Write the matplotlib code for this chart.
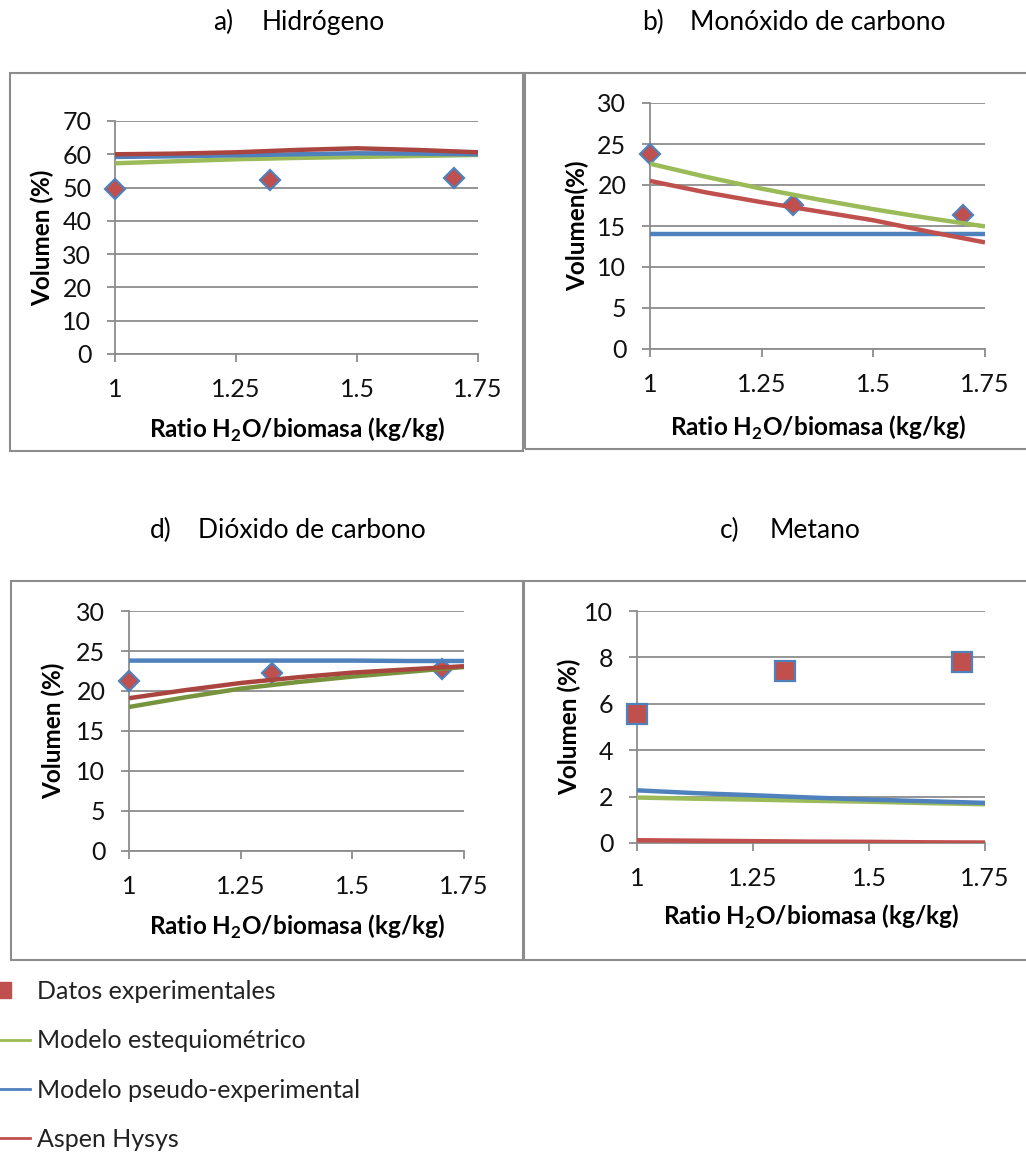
import matplotlib
matplotlib.use("Agg")
import matplotlib.pyplot as plt
from matplotlib.lines import Line2D
from matplotlib.patches import Rectangle

plt.rcParams['font.family'] = ['Lato', 'DejaVu Sans']
plt.rcParams['mathtext.fontset'] = 'custom'
plt.rcParams['mathtext.rm'] = 'Lato:bold'
plt.rcParams['mathtext.bf'] = 'Lato:bold'

# datos
x_exp = [1.0, 1.32, 1.70]
x_mod = [1.0, 1.125, 1.25, 1.375, 1.5, 1.625, 1.75]

# a) Hidrogeno
h2_exp = [49.5, 52.3, 53.0]
h2_esteq = [57.3, 57.9, 58.5, 58.9, 59.2, 59.5, 59.8]
h2_pseudo = [59.2, 59.4, 59.7, 60.0, 60.3, 60.2, 60.0]
h2_aspen = [60.0, 60.2, 60.6, 61.3, 61.8, 61.3, 60.6]

# b) Monoxido de carbono
co_exp = [23.75, 17.5, 16.4]
co_esteq = [22.6, 21.0, 19.55, 18.25, 17.05, 15.95, 14.95]
co_pseudo = [14.0, 14.0, 14.0, 14.0, 14.0, 14.0, 14.0]
co_aspen = [20.5, 19.1, 17.9, 16.8, 15.7, 14.3, 13.0]

# d) Dioxido de carbono
co2_exp = [21.2, 22.3, 22.7]
co2_esteq = [18.0, 19.2, 20.3, 21.1, 21.8, 22.4, 23.0]
co2_pseudo = [23.8, 23.8, 23.8, 23.8, 23.8, 23.75, 23.75]
co2_aspen = [19.1, 20.1, 21.0, 21.7, 22.3, 22.7, 23.1]

# c) Metano
ch4_exp = [5.58, 7.41, 7.81]
ch4_esteq = [1.96, 1.91, 1.87, 1.82, 1.78, 1.72, 1.67]
ch4_pseudo = [2.27, 2.15, 2.06, 1.96, 1.87, 1.80, 1.73]
ch4_aspen = [0.12, 0.10, 0.08, 0.06, 0.05, 0.03, 0.02]

x_ticks = [1, 1.25, 1.5, 1.75]
x_ticklabels = ['1', '1.25', '1.5', '1.75']

ROJO = '#C0504D'
ROJO_OSC = '#A9443F'
AZUL = '#4F81BD'
VERDE = '#9BBB59'
VERDE_OSC = '#77933C'
GRIS = '#8C8C8C'

W, H = 1026, 1162
fig = plt.figure(figsize=(W / 100, H / 100), dpi=100)


def px_box(x0, x1, y0, y1):
    # caja en pixeles (desde arriba) -> fraccion de figura
    return [x0 / W, 1 - y1 / H, (x1 - x0) / W, (y1 - y0) / H]


def panel(box, exp, esteq, pseudo, aspen, ymax, ystep, ylabel, ylab_x, xlab_y,
          marker='D', ms=10, rojo=ROJO, verde=VERDE):
    ax = fig.add_axes(px_box(*box))
    ax.plot(x_exp, exp, ls='none', marker=marker, ms=ms, mfc=ROJO, mec=AZUL,
            mew=1.6, zorder=3, clip_on=False)
    ax.plot(x_mod, esteq, color=verde, lw=3.2, zorder=4, solid_capstyle='butt')
    ax.plot(x_mod, pseudo, color=AZUL, lw=3.2, zorder=5, solid_capstyle='butt')
    ax.plot(x_mod, aspen, color=rojo, lw=3.2, zorder=6, solid_capstyle='butt')
    ax.set_xlim(1, 1.75)
    ax.set_ylim(0, ymax)
    ax.set_xticks(x_ticks)
    ax.set_xticklabels(x_ticklabels)
    ax.set_yticks(range(0, ymax + 1, ystep))
    ax.grid(axis='y', color=GRIS, lw=1.3)
    ax.set_axisbelow(True)
    for s in ['top', 'right']:
        ax.spines[s].set_visible(False)
    for s in ['left', 'bottom']:
        ax.spines[s].set_color(GRIS)
        ax.spines[s].set_linewidth(1.3)
    ax.tick_params(axis='both', direction='out', length=6, width=1.3,
                   color=GRIS, labelsize=18, labelcolor='#111111')
    ax.tick_params(axis='x', pad=11)
    ax.tick_params(axis='y', pad=11)
    ax.set_xlabel('Ratio H$_2$O/biomasa (kg/kg)', fontsize=17.5, fontweight='bold')
    ax.set_ylabel(ylabel, fontsize=17.5, fontweight='bold')
    ax.xaxis.set_label_coords(0.5, xlab_y)
    ax.xaxis.label.set_verticalalignment('center')
    ax.yaxis.set_label_coords(ylab_x, 0.5)
    ax.yaxis.label.set_verticalalignment('center')
    return ax


panel((115, 478, 121, 354), h2_exp, h2_esteq, h2_pseudo, h2_aspen, 70, 10,
      'Volumen (%)', -0.201, -0.326, rojo=ROJO_OSC)
panel((650, 985, 103, 349), co_exp, co_esteq, co_pseudo, co_aspen, 30, 5,
      'Volumen(%)', -0.218, -0.321)
panel((129, 464, 611, 851), co2_exp, co2_esteq, co2_pseudo, co2_aspen, 30, 5,
      'Volumen (%)', -0.227, -0.317, rojo=ROJO_OSC, verde=VERDE_OSC)
panel((637, 985, 611, 843), ch4_exp, ch4_esteq, ch4_pseudo, ch4_aspen, 10, 2,
      'Volumen (%)', -0.193, -0.319, marker='s', ms=14)

# marcos de cada grafico
for b in [(10, 523, 73, 451), (525, 1030, 73, 449),
          (11, 523, 581, 960), (524, 1030, 581, 960)]:
    fig.add_artist(Rectangle((b[0] / W, 1 - b[3] / H),
                             (b[1] - b[0]) / W, (b[3] - b[2]) / H,
                             transform=fig.transFigure, fill=False,
                             ec=GRIS, lw=1.5))

# titulos
titulos = [(213, 262, 30, 'a)', 'Hidrógeno'),
           (642, 690, 30, 'b)', 'Monóxido de carbono'),
           (150, 198, 538, 'd)', 'Dióxido de carbono'),
           (720, 770, 538, 'c)', 'Metano')]
for xl, xt, yb, letra, txt in titulos:
    fig.text(xl / W, 1 - yb / H, letra, fontsize=19, va='baseline', ha='left')
    fig.text(xt / W, 1 - yb / H, txt, fontsize=19, va='baseline', ha='left')

# leyenda
handles = [Line2D([], [], ls='none', marker='s', ms=11, mfc=ROJO, mec=ROJO),
           Line2D([], [], color=VERDE, lw=2),
           Line2D([], [], color=AZUL, lw=2),
           Line2D([], [], color=ROJO, lw=2)]
labels = ['Datos experimentales', 'Modelo estequiométrico',
          'Modelo pseudo-experimental', 'Aspen Hysys']
fig.legend(handles, labels, loc='upper left', bbox_to_anchor=(-24 / W, 1 - 980 / H),
           frameon=False, fontsize=18, handlelength=2.15, handletextpad=0.3,
           labelspacing=1.05, borderpad=0, borderaxespad=0, labelcolor='#222222')

fig.savefig('out.png', dpi=100)
